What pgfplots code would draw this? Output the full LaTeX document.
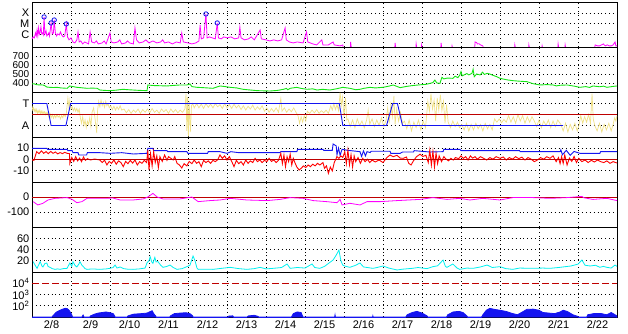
\documentclass[border=0pt]{standalone}
\usepackage{fontspec}
\setmainfont{Liberation Sans}
\usepackage{pgfplots}
\pgfplotsset{compat=1.18}
\definecolor{cMag}{RGB}{255,0,255}
\definecolor{cGreen}{RGB}{20,230,20}
\definecolor{cYel}{RGB}{240,225,135}
\definecolor{cBlue}{RGB}{20,20,240}
\definecolor{cRed}{RGB}{255,0,0}
\definecolor{cDark}{RGB}{190,0,0}
\definecolor{cCyan}{RGB}{0,240,240}
\pgfplotsset{
  panel/.style={
    width=585pt, height=45pt, scale only axis, anchor=south west,
    xmin=0, xmax=15,
    axis line style={line width=0.9pt},
    major tick length=0pt, minor tick length=0pt,
    xtick={0.5,1.5,...,14.5}, xticklabels={},
    minor xtick={1,2,...,14},
    xminorgrids=true, ymajorgrids=true, xmajorgrids=false,
    grid style={black, line width=0.9pt, dash pattern=on 0.9pt off 3pt},
    minor grid style={black, line width=0.9pt, dash pattern=on 0.9pt off 3pt},
    every tick label/.append style={font=\fontsize{11}{13}\selectfont},
    yticklabel style={inner sep=2.5pt},
    every axis plot/.append style={line width=0.8pt},
    clip=true,
  }
}
\begin{document}
\begin{tikzpicture}
\useasboundingbox (0,0) rectangle (628pt,334pt);
% ---------- Panel 1: X-ray class ----------
\begin{axis}[panel, at={(32pt,287pt)}, ymin=-7.1, ymax=-3,
  ytick={-6,-5,-4}, yticklabels={C,M,X}, unbounded coords=jump]
\addplot[cMag, line width=0.8pt] coordinates {
(0.00,-6.36) (0.03,-6.18) (0.06,-6.27) (0.09,-5.82) (0.11,-6.09) (0.13,-5.55) (0.15,-6.09) (0.17,-5.36) (0.19,-5.91) (0.21,-5.73) (0.23,-5.27) (0.25,-5.91) (0.27,-5.82) (0.29,-6.00) (0.31,-4.36) (0.33,-5.91) (0.36,-5.64) (0.38,-6.09) (0.40,-6.00) (0.43,-5.82) (0.45,-6.09) (0.49,-4.91) (0.52,-5.91) (0.55,-5.82) (0.57,-4.64) (0.60,-5.82) (0.63,-6.09) (0.66,-5.91) (0.70,-6.00) (0.73,-5.73) (0.76,-6.00) (0.80,-6.18) (0.84,-6.09) (0.88,-5.00) (0.91,-6.18) (0.95,-6.45) (1.00,-6.27) (1.05,-6.64) (1.10,-6.73) (1.15,-6.45) (1.18,-5.73) (1.21,-6.64) (1.25,-6.55) (1.30,-6.82) (1.35,-6.64) (1.40,-6.73) (1.45,-6.82) (1.49,-5.73) (1.53,-6.64) (1.60,-6.73) (1.65,-6.55) (1.70,-6.82) (1.80,-6.73) (1.85,-6.55) (1.90,-6.82) (2.00,-5.82) (2.03,-6.64) (2.10,-6.73) (2.20,-6.64) (2.25,-6.45) (2.30,-6.82) (2.40,-6.73) (2.45,-6.55) (2.50,-6.73) (2.60,-6.82) (2.64,-5.36) (2.68,-6.45) (2.75,-6.73) (2.85,-6.64) (2.92,-6.45) (3.00,-6.73) (3.10,-6.55) (3.20,-6.73) (3.30,-6.64) (3.35,-6.45) (3.40,-6.73) (3.50,-6.64) (3.60,-6.82) (3.70,-6.64) (3.80,-6.73) (3.84,-5.82) (3.88,-6.64) (4.00,-6.73) (4.10,-6.82) (4.20,-6.73) (4.28,-6.55) (4.31,-5.09) (4.34,-6.36) (4.40,-6.27) (4.46,-4.09) (4.49,-6.27) (4.55,-6.18) (4.62,-6.27) (4.70,-6.36) (4.75,-4.91) (4.78,-6.27) (4.85,-6.36) (4.92,-6.18) (5.00,-6.27) (5.10,-6.18) (5.20,-6.36) (5.30,-6.27) (5.33,-5.27) (5.36,-6.27) (5.45,-6.45) (5.55,-6.36) (5.62,-6.18) (5.70,-6.45) (5.85,-5.55) (5.88,-6.36) (6.00,-6.45) (6.10,-6.55) (6.20,-6.45) (6.30,-6.55) (6.40,-6.45) (6.49,-5.36) (6.52,-6.45) (6.60,-6.64) (6.70,-6.73) (6.80,-6.64) (6.95,-6.73) (7.04,-5.73) (7.07,-6.64) (7.20,-6.82) (7.30,-6.91) (7.43,-6.45) (7.46,-6.91) (7.60,-6.91) (7.72,-6.64) (7.75,-6.91) (7.90,-7.00) (7.97,-6.91) (7.98,-7.3)
};
\addplot[cMag, line width=0.8pt] coordinates {
(8.16,-7.3) (8.17,-6.64) (8.19,-7.3) (8.2,nan)
(9.30,-7.3) (9.31,-6.73) (9.33,-7.3) (9.34,nan)
(9.84,-7.3) (9.85,-6.82) (9.87,-7.3) (9.88,nan)
(9.98,-7.3) (9.99,-6.91) (10.01,-7.3) (10.02,nan)
(10.48,-7.3) (10.49,-6.73) (10.51,-7.3) (10.52,nan)
(10.76,-7.3) (10.77,-7.0) (10.79,-7.3) (10.80,nan)
(11.35,-7.3) (11.36,-6.64) (11.40,-6.70) (11.42,-6.82) (11.46,-6.80) (11.50,-6.91) (11.56,-7.0) (11.58,-7.3) (11.59,nan)
(12.37,-7.3) (12.38,-6.91) (12.40,-7.3) (12.41,nan)
(12.73,-7.3) (12.74,-6.91) (12.76,-7.3) (12.77,nan)
(13.07,-7.3) (13.08,-7.0) (13.10,-7.3) (13.11,nan)
(13.48,-7.3) (13.49,-6.82) (13.51,-7.3) (13.52,nan)
(13.66,-7.3) (13.67,-6.91) (13.69,-7.3) (13.70,nan)
(14.42,-7.3) (14.44,-6.91) (14.50,-7.0) (14.55,-7.0) (14.60,-6.91) (14.65,-6.82) (14.70,-7.0) (14.75,-6.91) (14.80,-7.0) (14.85,-7.0) (14.90,-6.91) (14.95,-6.64) (14.97,-7.0) (15.0,-7.0)
};
\addplot[only marks, mark=o, mark size=2.2pt, cBlue, line width=0.8pt] coordinates {
(0.31,-4.36) (0.49,-4.91) (0.57,-4.64) (0.88,-5.00) (4.46,-4.09) (4.75,-4.91)
};
\end{axis}
% ---------- Panel 2: speed ----------
\begin{axis}[panel, at={(32pt,242pt)}, ymin=300, ymax=800,
  ytick={400,500,600,700}, yticklabels={400,500,600,700},
  yticklabel style={font=\fontsize{10}{10}\selectfont}]
\addplot[cGreen, line width=0.9pt] coordinates {
(0.00,389) (0.05,392) (0.10,383) (0.15,380) (0.28,378) (0.33,370) (0.38,355) (0.45,352) (0.55,350) (0.64,352) (0.75,345) (0.90,341) (0.97,367) (1.05,360) (1.15,352) (1.25,348) (1.41,341) (1.55,343) (1.67,341) (1.74,322) (1.85,318) (2.00,315) (2.15,320) (2.33,330) (2.45,326) (2.59,322) (2.75,318) (2.95,315) (2.97,378) (3.10,372) (3.25,370) (3.46,367) (3.60,372) (3.79,378) (3.97,378) (4.05,389) (4.10,360) (4.23,352) (4.40,348) (4.64,341) (4.82,367) (4.95,360) (5.08,352) (5.25,345) (5.41,330) (5.60,322) (5.77,315) (5.95,313) (6.10,311) (6.30,318) (6.45,330) (6.52,340) (6.56,325) (6.62,341) (6.79,352) (6.90,340) (7.05,330) (7.20,335) (7.31,322) (7.45,330) (7.64,322) (7.80,335) (7.97,352) (8.15,341) (8.30,325) (8.41,330) (8.50,340) (8.67,352) (8.80,345) (9.00,352) (9.15,365) (9.26,378) (9.44,348) (9.60,362) (9.77,372) (9.95,380) (10.10,385) (10.21,396) (10.28,405) (10.33,433) (10.38,400) (10.46,396) (10.51,463) (10.56,445) (10.65,455) (10.79,452) (10.85,475) (10.92,460) (10.97,489) (11.00,526) (11.03,480) (11.10,495) (11.15,505) (11.20,490) (11.28,507) (11.31,552) (11.34,470) (11.40,500) (11.49,489) (11.55,520) (11.60,495) (11.67,507) (11.74,500) (11.82,485) (11.92,470) (12.00,452) (12.18,435) (12.33,426) (12.50,420) (12.69,415) (12.85,392) (13.03,378) (13.20,382) (13.36,378) (13.45,368) (13.54,375) (13.72,378) (13.90,365) (14.05,352) (14.20,360) (14.30,350) (14.38,367) (14.56,358) (14.65,365) (14.74,352) (14.90,362) (15.00,367)
};
\end{axis}
% ---------- Panel 3: sector T/A ----------
\begin{axis}[panel, at={(32pt,197pt)}, ymin=-2.05, ymax=2.05,
  ytick={-1,1}, yticklabels={A,T}]
\addplot[cYel, line width=0.7pt] coordinates {
(0.00,0.8) (0.02,0.4) (0.04,0.6) (0.06,0.3) (0.08,0.5) (0.10,0.2) (0.12,0.45) (0.14,0.1) (0.16,0.35) (0.18,0.15) (0.20,0.4) (0.22,0.1) (0.24,0.3) (0.26,0.05) (0.28,0.3) (0.30,0.1) (0.32,0.25) (0.34,0.0) (0.36,0.2) (0.38,0.05)
(0.40,0.15) (0.43,-0.2) (0.46,0.1) (0.49,-0.3) (0.52,0.0) (0.55,-0.35) (0.58,-0.05) (0.61,-0.3) (0.64,0.0) (0.67,-0.25) (0.70,-0.1) (0.73,-0.4) (0.76,-0.1) (0.79,-0.3) (0.82,0.05) (0.85,-0.2) (0.88,0.1)
(0.92,1.5) (0.95,0.6) (0.97,1.3)
(1.00,0.5) (1.03,0.7) (1.06,0.35) (1.09,0.6) (1.12,0.3) (1.15,0.55) (1.18,0.2) (1.21,0.5)
(1.24,-0.3) (1.27,-0.8) (1.30,-0.2) (1.33,-1.0) (1.36,-0.5) (1.39,-1.2) (1.42,-0.6) (1.45,-0.9) (1.48,-0.3) (1.51,-1.1) (1.54,0.2)
(1.58,0.6) (1.62,-0.5) (1.66,-1.7) (1.68,0.3)
(1.71,1.2) (1.74,0.7) (1.77,1.3) (1.80,0.8) (1.83,1.1) (1.86,0.65) (1.89,1.2) (1.92,0.8) (1.95,1.0) (1.98,0.6)
(2.02,0.8) (2.06,0.45) (2.10,0.75) (2.14,0.4) (2.18,0.7) (2.22,0.45) (2.26,0.8) (2.30,0.4)
(2.36,0.5) (2.42,0.15) (2.48,0.45) (2.54,0.1) (2.60,0.4) (2.66,0.2) (2.72,0.5) (2.78,0.1) (2.84,0.45) (2.90,0.2) (2.96,0.5) (3.02,0.15) (3.08,0.55) (3.14,0.2) (3.20,0.4) (3.26,0.1) (3.32,0.5) (3.38,0.25) (3.44,0.45) (3.50,0.1) (3.56,0.5) (3.62,0.2) (3.68,0.45) (3.74,0.15) (3.80,0.4) (3.86,0.2)
(3.92,0.5) (3.95,1.9) (3.97,-1.5) (3.99,1.6) (4.01,-2.0) (4.03,1.2) (4.06,-1.6) (4.09,0.8) (4.12,1.0)
(4.16,0.6) (4.22,1.0) (4.28,0.6) (4.34,0.95) (4.40,0.55) (4.46,1.0) (4.52,0.65) (4.58,0.95) (4.64,0.6) (4.70,1.0) (4.76,0.7) (4.82,0.9) (4.88,0.55) (4.94,1.0) (5.00,0.6) (5.06,0.9) (5.12,0.55) (5.18,0.95) (5.24,0.6)
(5.30,0.85) (5.36,0.45) (5.42,0.8) (5.48,0.4) (5.54,0.75) (5.60,0.5) (5.66,0.85) (5.72,0.4) (5.78,0.7) (5.84,0.45) (5.90,0.8)
(5.96,0.3) (6.02,0.6) (6.08,0.2) (6.14,0.55) (6.20,0.25) (6.26,0.6) (6.32,0.2) (6.38,1.45) (6.41,0.3) (6.47,0.6) (6.53,0.2) (6.59,0.5) (6.65,0.25) (6.71,0.6) (6.77,0.2)
(6.82,-0.1) (6.86,-0.8) (6.90,-0.2) (6.94,-0.7) (6.98,-0.1) (7.02,-0.6)
(7.06,0.3) (7.12,0.1) (7.18,0.4) (7.24,0.15) (7.30,0.45) (7.36,0.1) (7.42,0.35) (7.48,0.15) (7.54,0.4) (7.60,0.1)
(7.66,0.8) (7.70,0.4) (7.74,1.0) (7.78,0.45) (7.82,0.9) (7.86,0.35)
(7.90,2.0) (7.93,0.8) (7.96,1.6) (8.00,-0.2) (8.04,1.5) (8.07,-0.5)
(8.10,-0.4) (8.16,-1.1) (8.22,-0.5) (8.28,-1.2) (8.34,-0.4) (8.40,-1.0) (8.46,-0.6) (8.52,-1.2) (8.58,-0.5) (8.62,0.4) (8.66,-0.9) (8.72,-0.4) (8.78,-1.1) (8.84,-0.5) (8.90,-1.0) (8.96,-0.3) (9.02,-1.1) (9.08,-0.5)
(9.12,0.6) (9.16,-0.8) (9.20,0.9) (9.24,-0.2) (9.28,1.7) (9.31,-0.9) (9.35,0.5) (9.40,-0.6) (9.45,0.2) (9.50,-0.8)
(9.55,-0.6) (9.61,-1.3) (9.67,-0.5) (9.73,-1.5) (9.79,-0.7) (9.85,-1.2) (9.91,-0.5) (9.97,-1.4) (10.03,-0.6) (10.09,-1.2)
(10.15,1.2) (10.19,0.3) (10.23,1.9) (10.27,0.5) (10.31,1.3) (10.35,-0.6) (10.39,1.5) (10.43,0.4) (10.47,1.8) (10.51,0.35) (10.55,1.2) (10.59,-0.8) (10.63,0.9)
(10.67,-0.7) (10.73,-1.2) (10.79,-0.6) (10.85,-1.1) (10.91,-0.7) (10.96,-1.2)
(11.02,-0.9) (11.08,-1.4) (11.14,-0.8) (11.20,-1.5) (11.26,-0.9) (11.32,-1.4) (11.38,-0.8) (11.44,-1.3) (11.50,-0.9) (11.56,-1.5) (11.62,-0.8) (11.68,-1.3) (11.74,-0.9) (11.80,-1.4)
(11.86,-0.4) (11.92,-0.7) (11.98,-0.4) (12.04,-0.75) (12.10,-0.45) (12.16,-0.7)
(12.22,-0.1) (12.28,-0.7) (12.34,-0.2) (12.40,-0.8) (12.46,0.0) (12.52,-0.6) (12.58,-0.1) (12.64,-0.8) (12.70,-0.2) (12.76,-0.7) (12.82,-0.2)
(12.88,-0.6) (12.94,-1.1) (13.00,-0.5) (13.06,-1.2) (13.12,-0.6) (13.18,-1.0) (13.24,-0.5) (13.30,-1.2) (13.36,-0.6) (13.42,-1.1) (13.48,-0.5)
(13.56,-0.9) (13.62,-1.5) (13.68,-0.8) (13.74,-1.6) (13.80,-0.9) (13.86,-1.4) (13.92,-0.8) (13.98,-1.5) (14.03,-0.9)
(14.07,-0.1) (14.12,-0.8) (14.17,-0.2) (14.22,-0.7) (14.27,0.0) (14.32,-0.8) (14.36,1.9) (14.39,-0.4)
(14.43,-1.0) (14.49,-1.5) (14.55,-0.8) (14.61,-1.6) (14.67,-0.9) (14.73,-1.4) (14.79,-0.8) (14.85,-1.5) (14.90,-0.9)
(14.94,-0.3) (14.97,-0.6) (15.00,-0.1)
};
\addplot[cDark, line width=0.9pt] coordinates {(0,0) (15,0)};
\addplot[cBlue, line width=0.9pt] coordinates {
(0,1) (0.38,1) (0.49,-1) (0.87,-1) (0.99,1) (7.88,1) (7.97,-1) (9.09,-1) (9.25,1) (9.37,1) (9.50,-1) (13.62,-1)
};
\end{axis}
% ---------- Panel 4: Bt / Bz ----------
\begin{axis}[panel, at={(32pt,152pt)}, ymin=-20.5, ymax=20,
  ytick={-10,0,10}, yticklabels={-10,0,10}]
\addplot[cBlue, line width=0.9pt] coordinates {
(0,9.8) (0.38,9.8) (0.40,8.9) (0.90,8.9) (0.92,7.7) (1.03,7.7) (1.05,5.9) (1.18,5.9) (1.20,3.8) (1.40,3.8) (1.42,5.9) (1.74,5.9) (2.0,5.3) (2.3,5.9) (2.6,4.7) (2.95,5.3) (2.97,9.8) (3.10,9.8) (3.12,7.7) (3.46,7.7) (3.48,6.8) (3.97,6.8) (4.0,5.3) (4.5,5.3) (4.52,6.8) (4.82,6.8) (5.0,5.3) (5.1,6.8) (5.3,5.9) (6.36,5.9) (6.38,6.8) (6.79,6.8) (6.81,8.9) (7.46,8.9) (7.48,8.0) (7.70,8.0) (7.72,13.7) (7.80,12) (7.82,4.0) (7.86,10) (7.90,3.5) (7.95,8.9) (8.1,8.0) (8.41,6.8) (8.45,2.5) (8.50,7.5) (8.55,3) (8.59,6.8) (8.67,6.0) (8.70,7.2) (9.18,7.2) (9.20,5.3) (9.44,5.3) (9.50,6.5) (9.78,6.5) (9.80,7.7) (10.2,6.5) (10.54,6.8) (10.56,8.9) (10.97,8.9) (11.0,7.7) (12.5,7.7) (12.52,6.8) (13.54,6.8) (13.56,8.5) (13.6,4) (13.7,8) (13.8,3.5) (13.9,7) (14.05,5.3) (14.56,5.3) (14.58,6.8) (15,6.8)
};
\addplot[cRed, line width=0.9pt] coordinates {
(0.0,-0.7) (0.05,-1.0) (0.12,6.8) (0.18,5.0) (0.24,7.5) (0.30,5.3) (0.36,6.8) (0.42,5.0) (0.48,7.0) (0.54,5.3) (0.60,6.5) (0.66,4.8) (0.72,6.0) (0.78,5.0) (0.84,6.2) (0.90,5.3) (0.96,5.0) (0.97,-3.7) (1.02,1.5) (1.07,-2.0) (1.12,2.3) (1.17,-1.5) (1.22,1.0) (1.27,-2.2) (1.32,2.0) (1.37,-1.0) (1.42,0.5) (1.5,-0.7) (1.6,0.2) (1.74,-0.7) (1.80,-3.0) (1.86,-1.0) (1.92,-5.2) (1.98,-2.0) (2.04,-3.7) (2.10,-0.7) (2.16,-4.5) (2.22,-1.5) (2.28,-3.0) (2.34,-6.7) (2.40,-2.0) (2.46,-4.0) (2.52,-1.0) (2.58,-3.5) (2.64,-0.7) (2.70,-5.2) (2.76,-2.2) (2.82,-3.7) (2.88,-1.0) (2.94,-3.0) (2.97,8.3) (3.00,-9.7) (3.04,5.0) (3.08,-6.0) (3.12,6.8) (3.16,-3.0) (3.20,3.0) (3.24,-7.5) (3.28,2.3) (3.34,-2.0) (3.40,3.8) (3.46,-1.0) (3.50,2.3) (3.56,0.8) (3.62,-0.7) (3.66,2.3) (3.72,-3.7) (3.78,-5.2) (3.84,-7.9) (3.90,-4.0) (3.97,-6.0) (4.03,-2.0) (4.10,-4.0) (4.16,-0.7) (4.22,-3.7) (4.28,-2.2) (4.34,-6.7) (4.40,-1.0) (4.46,-3.0) (4.52,-1.5) (4.58,-3.7) (4.64,-1.0) (4.70,-2.2) (4.76,-0.5) (4.82,3.8) (4.88,0.8) (4.94,3.0) (5.00,-0.7) (5.06,2.3) (5.12,-2.0) (5.18,-6.7) (5.24,-1.0) (5.30,-4.0) (5.36,-2.2) (5.42,-5.2) (5.48,-0.7) (5.54,-3.7) (5.60,-1.5) (5.66,-3.0) (5.72,0.8) (5.78,-2.2) (5.84,-0.7) (5.90,-3.0) (5.96,-1.0) (6.02,-2.2) (6.08,0.8) (6.14,-2.0) (6.20,-0.7) (6.26,-3.0) (6.32,-1.0) (6.38,5.3) (6.42,-4.0) (6.46,3.8) (6.50,-6.7) (6.54,2.3) (6.58,-2.2) (6.62,4.5) (6.66,-5.2) (6.70,0.8) (6.74,-3.0) (6.79,-7.0) (6.85,-9.7) (6.90,-8.2) (6.96,-6.0) (7.02,-7.5) (7.08,-5.2) (7.14,-6.7) (7.20,-4.5) (7.26,-6.0) (7.32,-3.7) (7.38,-5.2) (7.46,-3.0) (7.50,-8.2) (7.55,-6.0) (7.60,-12.7) (7.65,-7.0) (7.70,-10.5) (7.75,-3.0) (7.82,2.3) (7.87,0.8) (7.92,3.0) (7.97,1.5) (8.02,6.8) (8.06,-4.0) (8.10,8.3) (8.14,-5.0) (8.18,4.0) (8.22,-7.0) (8.26,3.0) (8.30,-2.2) (8.36,1.5) (8.42,-3.7) (8.48,0.8) (8.54,-2.2) (8.60,0.0) (8.66,-3.0) (8.72,-0.7) (8.80,-2.5) (8.90,-0.7) (9.00,-3.0) (9.10,1.5) (9.18,3.8) (9.26,2.3) (9.36,3.5) (9.44,1.0) (9.52,0.8) (9.60,2.0) (9.66,-3.7) (9.72,-5.2) (9.78,-1.5) (9.86,2.3) (9.95,4.5) (10.02,2.5) (10.10,3.5) (10.16,-3.0) (10.20,8.3) (10.24,-5.2) (10.28,7.0) (10.32,-7.0) (10.36,5.3) (10.40,-4.0) (10.44,3.0) (10.50,-2.2) (10.56,2.3) (10.62,0.0) (10.68,-1.5) (10.74,0.8) (10.80,-0.7) (10.86,1.5) (10.94,0.5) (11.00,3.0) (11.06,0.8) (11.12,2.3) (11.18,-0.7) (11.24,3.0) (11.30,1.0) (11.36,2.3) (11.42,0.0) (11.50,2.3) (11.58,0.8) (11.66,-0.7) (11.74,1.5) (11.82,0.0) (11.90,2.3) (12.00,0.8) (12.08,2.0) (12.16,-0.7) (12.24,1.5) (12.32,0.0) (12.40,2.3) (12.48,0.5) (12.56,1.8) (12.64,-0.7) (12.72,1.5) (12.80,0.0) (12.88,-2.2) (12.96,-0.7) (13.04,1.5) (13.12,0.0) (13.20,2.3) (13.28,0.8) (13.36,3.0) (13.44,-2.2) (13.50,1.5) (13.54,-4.0) (13.58,2.3) (13.62,-3.7) (13.66,3.8) (13.72,-5.2) (13.78,1.0) (13.84,-2.0) (13.90,2.5) (13.96,-3.0) (14.02,0.8) (14.10,-2.2) (14.18,-0.7) (14.26,-3.0) (14.34,-1.0) (14.42,-2.5) (14.50,-0.7) (14.58,-2.2) (14.66,-3.0) (14.74,-1.5) (14.82,-3.7) (14.90,-2.2) (15.0,-3.4)
};
\addplot[cDark, line width=0.9pt] coordinates {(0,0) (15,0)};
\end{axis}
% ---------- Panel 5: Dst ----------
\begin{axis}[panel, at={(32pt,107pt)}, ymin=-200, ymax=100,
  ytick={-100,0}, yticklabels={-100,0}]
\addplot[cDark, line width=0.9pt] coordinates {(0,0) (15,0)};
\addplot[cMag, line width=0.8pt] coordinates {
(0.03,-31) (0.15,-53) (0.28,-42) (0.41,-20) (0.59,-9) (0.90,-4) (1.03,-16) (1.15,-38) (1.28,-31) (1.41,-9) (1.74,-9) (2.08,-7) (2.26,-20) (2.59,-20) (2.85,-13) (2.97,0) (3.10,24) (3.21,0) (3.36,-13) (3.79,-13) (4.10,0) (4.26,-31) (4.56,-24) (4.82,-20) (5.08,-9) (5.51,-20) (6.03,-24) (6.36,-16) (6.62,-4) (6.95,-9) (7.21,-24) (7.56,-31) (7.82,-38) (7.90,-16) (7.95,-53) (8.15,-42) (8.41,-53) (8.59,-31) (8.92,-31) (9.36,-24) (9.95,-16) (10.28,-4) (10.64,-16) (10.97,-9) (11.23,-20) (11.56,-9) (12.0,-20) (12.33,-4) (12.85,-4) (13.28,-9) (13.72,-4) (14.10,4) (14.15,-5) (14.38,-16) (14.74,-9) (15.0,-24)
};
\end{axis}
% ---------- Panel 6: cyan ----------
\begin{axis}[panel, at={(32pt,62pt)}, ymin=0, ymax=80,
  ytick={20,40,60}, yticklabels={20,40,60}]
\addplot[cCyan, line width=0.8pt] coordinates {
(0.03,18.4) (0.08,12) (0.13,6.5) (0.18,14) (0.21,18.4) (0.26,10) (0.28,9) (0.33,15) (0.38,16) (0.41,10) (0.46,8.3) (0.52,6) (0.59,4.7) (0.66,5.5) (0.72,4.7) (0.80,6) (0.90,6.5) (0.97,16) (1.02,10) (1.05,18.4) (1.10,12) (1.15,8.9) (1.20,14) (1.23,18.4) (1.28,12) (1.31,10) (1.36,6) (1.41,4.7) (1.55,5.5) (1.74,4.7) (1.90,5.5) (2.0,6.5) (2.08,8) (2.13,12.4) (2.18,7) (2.26,9) (2.35,6) (2.45,5) (2.59,4.7) (2.75,5.5) (2.90,7) (2.95,16.6) (3.00,20) (3.03,27.2) (3.07,18) (3.10,15.4) (3.15,26) (3.18,18) (3.23,18.4) (3.30,12) (3.36,8.3) (3.46,10) (3.54,12.4) (3.62,8) (3.72,4.7) (3.85,6) (3.97,9.5) (4.05,12) (4.13,28.4) (4.18,20) (4.23,7) (4.26,4.7) (4.40,5) (4.64,4.7) (4.80,6) (5.08,8.3) (5.30,6) (5.51,4.7) (5.70,6) (5.85,8.3) (6.0,5.5) (6.18,6.5) (6.40,8) (6.54,14.2) (6.62,6.5) (6.80,8) (7.0,7) (7.18,14.2) (7.25,8) (7.38,6.5) (7.50,10) (7.72,21.3) (7.80,30) (7.87,39) (7.92,20) (7.97,12) (8.05,10) (8.15,8.3) (8.30,12) (8.41,16) (8.50,9) (8.74,6.5) (8.85,8) (9.0,10.7) (9.15,7) (9.36,3.6) (9.50,5) (9.75,6.5) (9.90,8) (10.0,7) (10.13,6) (10.28,9.5) (10.40,11) (10.54,21.3) (10.60,10) (10.64,8.3) (10.79,14.2) (10.90,7) (10.97,4.7) (11.15,7) (11.31,6.5) (11.50,9) (11.67,12.4) (11.80,8) (12.0,9.5) (12.15,6) (12.33,4.7) (12.50,7) (12.85,6.5) (13.10,7) (13.28,6.5) (13.50,8) (13.82,10.7) (14.0,14) (14.10,21.3) (14.18,12) (14.31,10.7) (14.45,12) (14.56,8.3) (14.65,10) (14.74,8.3) (14.85,7) (14.95,12.4) (15.0,10)
};
\end{axis}
% ---------- Panel 7: proton flux (log) ----------
\begin{axis}[panel, at={(32pt,17pt)}, ymin=1, ymax=5,
  ytick={2,3}, yticklabels={10\textsuperscript{2},10\textsuperscript{3}},
  extra y ticks={4}, extra y tick labels={10\textsuperscript{4}},
  extra y tick style={ymajorgrids=false},
  xticklabels={2/8,2/9,2/10,2/11,2/12,2/13,2/14,2/15,2/16,2/17,2/18,2/19,2/20,2/21,2/22}]
\addplot[cDark, line width=0.9pt, dash pattern=on 7pt off 3pt] coordinates {(0,4) (15,4)};
\addplot[cBlue, fill=cBlue, line width=0.8pt] coordinates {
(0,0.8) (0.45,0.8) (0.51,1.0) (0.60,1.35) (0.64,1.47) (0.72,1.6) (0.77,1.68) (0.85,1.77) (0.90,1.75) (0.95,1.6) (0.97,1.5) (1.02,1.2) (1.05,0.9)
(1.25,0.8) (1.31,1.18) (1.36,0.8)
(1.45,0.8) (1.50,1.1) (1.60,1.25) (1.70,1.35) (1.80,1.4) (1.90,1.45) (2.00,1.38) (2.08,1.3) (2.12,1.1) (2.15,0.8)
(2.40,0.8) (2.46,1.1) (2.60,1.25) (2.80,1.3) (2.95,1.35) (3.08,1.56) (3.12,1.3) (3.17,1.1) (3.20,0.8)
(3.50,0.8) (3.55,1.1) (3.65,1.3) (3.80,1.35) (3.95,1.38) (4.05,1.3) (4.12,1.1) (4.15,0.8)
(5.00,0.8) (5.05,1.09) (5.15,1.1) (5.20,0.8)
(5.45,0.8) (5.55,1.1) (5.70,1.15) (5.80,1.05) (5.85,0.8)
(6.62,0.8) (6.70,1.3) (6.80,1.45) (6.90,1.4) (6.97,0.8)
(7.75,0.8) (7.77,1.2) (7.79,0.8)
(8.72,0.8) (8.74,1.1) (8.76,0.8)
(9.55,0.8) (9.62,1.2) (9.75,1.4) (9.87,1.5) (10.0,1.35) (10.13,1.1) (10.18,0.8)
(10.60,0.8) (10.66,1.2) (10.80,1.45) (10.95,1.5) (11.05,1.4) (11.15,1.1) (11.20,0.8)
(11.50,0.8) (11.56,1.2) (11.65,1.6) (11.74,1.77) (11.85,1.68) (12.0,1.6) (12.15,1.5) (12.33,1.3) (12.45,1.2) (12.60,1.5) (12.69,1.68) (12.85,1.7) (13.0,1.6) (13.10,1.4) (13.25,1.35) (13.40,1.3) (13.54,1.45) (13.62,1.6) (13.72,1.5) (13.87,1.2) (14.0,1.05) (14.05,0.8)
(14.20,0.8) (14.25,1.2) (14.40,1.3) (14.60,1.3) (14.74,1.2) (14.85,1.4) (14.95,1.2) (15.0,1.1) (15.0,0.8)
} \closedcycle;
\end{axis}
\end{tikzpicture}
\end{document}
